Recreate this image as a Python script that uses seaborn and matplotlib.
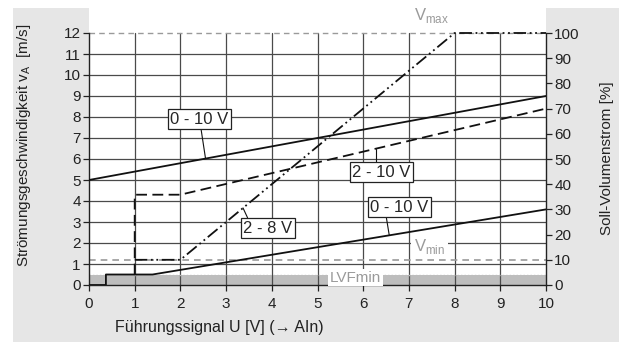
import numpy as np
import matplotlib
matplotlib.use("Agg")
import matplotlib.pyplot as plt
import seaborn as sns

# curve data (U in V, v_A in m/s)
u_top = [0, 10]
v_top = [5, 9]

u_low = [0, 0.37, 0.37, 1.39, 10]
v_low = [0, 0, 0.5, 0.5, 3.6]

u_210 = [1, 1, 2, 10]
v_210 = [0.5, 4.3, 4.3, 8.4]

u_28 = [1, 2, 8, 10]
v_28 = [1.2, 1.2, 12, 12]

v_max = 12
v_min = 1.2
lvf_min = 0.5

x_ticks = list(range(0, 11))
y_ticks = list(range(0, 13))
pct_ticks = list(range(0, 101, 10))

sns.set_style("white")
plt.rcParams["font.family"] = ["Liberation Sans", "DejaVu Sans"]
plt.rcParams["font.size"] = 11

fig = plt.figure(figsize=(6.19, 3.42), dpi=100)
fig.patch.set_facecolor("white")
# gray frame behind the plot
frame = plt.Rectangle((13 / 619, 0), 1, 1 - 8 / 342, transform=fig.transFigure,
                      facecolor="#e6e6e6", edgecolor="none", zorder=-10)
fig.add_artist(frame)

ax = fig.add_axes([89 / 619, 57 / 342, 457 / 619, 277 / 342])
ax.set_facecolor("white")
ymax = 12 + 25 / 21
ax.set_xlim(0, 10)
ax.set_ylim(0, ymax)

grid_c = "#4a4a4a"
for y in range(1, 12):
    ax.plot([0, 10], [y, y], color=grid_c, lw=0.9, zorder=1)
for x in range(1, 10):
    ax.plot([x, x], [0, 12], color=grid_c, lw=0.9, zorder=1)
ax.plot([0, 10], [v_max, v_max], color="#9a9a9a", lw=1.0, ls=(0, (4, 3)), zorder=1)

# LVFmin area and Vmin line
ax.fill_between([0, 10], 0, lvf_min, color="#bdbdbd", lw=0, zorder=0.5)
ax.plot([0, 10], [lvf_min, lvf_min], color="#bdbdbd", lw=1.0, ls=(0, (1, 1.5)), zorder=1)
ax.plot([0, 10], [v_min, v_min], color="#9a9a9a", lw=1.2, ls=(0, (4, 3)), zorder=1.5)

lc = "#111111"
common = dict(sort=False, estimator=None, color=lc, lw=1.3, ax=ax, zorder=3)
sns.lineplot(x=u_top, y=v_top, **common)
sns.lineplot(x=u_low, y=v_low, **common)
sns.lineplot(x=u_210, y=v_210, linestyle=(0, (6, 3)), **common)
sns.lineplot(x=u_28, y=v_28, linestyle=(0, (7, 2, 1, 2, 1, 2)), **common)

# boxed labels with leader lines
box = dict(boxstyle="square,pad=0.15", fc="white", ec="#222222", lw=0.9)
lab_fs = 12
ax.plot([2.45, 2.55], [7.45, 6.02], color=lc, lw=0.8, zorder=4)
ax.text(2.42, 7.9, "0 - 10 V", ha="center", va="center", bbox=box, zorder=5, fontsize=lab_fs)
ax.plot([6.27, 6.27], [5.8, 6.49], color=lc, lw=0.8, zorder=4)
ax.text(6.4, 5.38, "2 - 10 V", ha="center", va="center", bbox=box, zorder=5, fontsize=lab_fs)
ax.plot([6.5, 6.57], [3.3, 2.37], color=lc, lw=0.8, zorder=4)
ax.text(6.79, 3.71, "0 - 10 V", ha="center", va="center", bbox=box, zorder=5, fontsize=lab_fs)
ax.plot([3.47, 3.37], [3.2, 3.67], color=lc, lw=0.8, zorder=4)
ax.text(3.91, 2.71, "2 - 8 V", ha="center", va="center", bbox=box, zorder=5, fontsize=lab_fs)

gray_t = "#9a9a9a"
ax.text(7.5, 12.85, r"V$_\mathregular{max}$", color=gray_t, ha="center", va="center",
        zorder=5, fontsize=12)
ax.text(7.45, 1.85, r"V$_\mathregular{min}$", color=gray_t, ha="center", va="center",
        zorder=5, fontsize=12, bbox=dict(boxstyle="square,pad=0.15", fc="white", ec="none"))
ax.text(5.83, 0.35, "LVFmin", color=gray_t, ha="center", va="center", zorder=5, fontsize=11,
        bbox=dict(boxstyle="square,pad=0.1", fc="white", ec="none"))

for s in ["top", "right"]:
    ax.spines[s].set_visible(False)
ax.spines["left"].set_bounds(0, 12)
ax.spines["bottom"].set_bounds(0, 10)
for s in ["left", "bottom"]:
    ax.spines[s].set_color("#222222")
    ax.spines[s].set_linewidth(1.0)
ax.set_xticks(x_ticks)
ax.set_yticks(y_ticks)
ax.tick_params(axis="both", direction="out", length=4, width=0.9, color="#222222",
               colors="#222222", labelsize=11, pad=2, left=True, bottom=True)
ax.tick_params(axis="x", pad=5)
ax.set_xlabel("Führungssignal U [V] (\u2192 AIn)", fontsize=11.5, color="#222222", ha="left")
ax.xaxis.set_label_coords(26 / 457, -0.125)
ax.set_ylabel(r"Strömungsgeschwindigkeit v$_\mathregular{A}$  [m/s]", fontsize=11, color="#222222")
ax.yaxis.set_label_coords(-56 / 457, 0.505)

ax2 = ax.twinx()
ax2.set_ylim(0, ymax / 1.2 * 10)
ax2.set_yticks(pct_ticks)
for s in ["top", "left", "bottom"]:
    ax2.spines[s].set_visible(False)
ax2.spines["right"].set_bounds(0, 100)
ax2.spines["right"].set_color("#222222")
ax2.spines["right"].set_linewidth(1.0)
ax2.tick_params(axis="y", direction="out", length=4, width=0.9, color="#222222",
                colors="#222222", labelsize=11, pad=2, right=True)
ax2.set_ylabel("Soll-Volumenstrom [%]", fontsize=11, color="#222222")
ax2.yaxis.set_label_coords(1 + 54 / 457, 0.458)

fig.savefig("out.png", dpi=100)
